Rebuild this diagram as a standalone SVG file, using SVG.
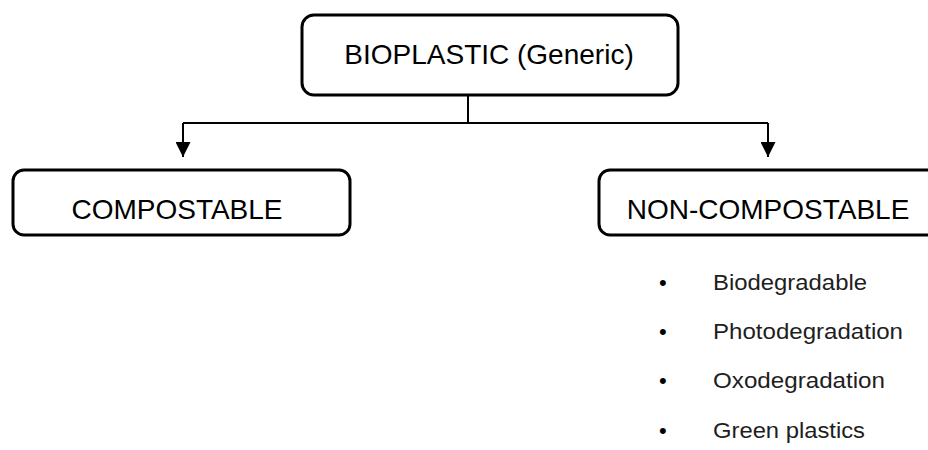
<svg xmlns="http://www.w3.org/2000/svg" width="928" height="450" viewBox="0 0 928 450">
  <defs>
    <marker id="arrow" viewBox="0 0 15 15" refX="15" refY="7.5" markerWidth="15" markerHeight="15" markerUnits="userSpaceOnUse" orient="auto">
      <path d="M0,0 L15,7.5 L0,15 z" fill="#000"/>
    </marker>
  </defs>
  <style>
    .box { fill: #fff; stroke: #000; stroke-width: 3; }
    .lbl { font-family: "Liberation Sans", Arial, sans-serif; font-size: 28px; fill: #000; text-anchor: middle; }
    .conn { fill: none; stroke: #000; stroke-width: 2; }
    .item { font-family: "Liberation Sans", Arial, sans-serif; font-size: 22px; fill: #1e1e1e; }
    .dot { font-family: "Liberation Sans", Arial, sans-serif; font-size: 22px; fill: #000; }
  </style>
  <rect width="928" height="450" fill="#fff"/>

  <g id="connectors">
    <path class="conn" d="M468,95 L468,123"/>
    <path class="conn" d="M183,123 L768,123"/>
    <path class="conn" d="M183,123 L183,157" marker-end="url(#arrow)"/>
    <path class="conn" d="M768,123 L768,157" marker-end="url(#arrow)"/>
  </g>

  <g id="bioplastic">
    <rect class="box" x="302" y="15" width="376" height="80" rx="12" ry="12"/>
    <text class="lbl" x="489" y="64">BIOPLASTIC (Generic)</text>
  </g>

  <g id="compostable">
    <rect class="box" x="13" y="170" width="337" height="65" rx="11" ry="11"/>
    <text class="lbl" x="177" y="219">COMPOSTABLE</text>
  </g>

  <g id="non-compostable">
    <rect class="box" x="599" y="170" width="345" height="65" rx="11" ry="11"/>
    <text class="lbl" x="768" y="219">NON-COMPOSTABLE</text>
  </g>

  <g id="list">
    <text class="dot" x="659" y="290">•</text>
    <text class="item" x="713" y="290" textLength="154" lengthAdjust="spacingAndGlyphs">Biodegradable</text>
    <text class="dot" x="659" y="339">•</text>
    <text class="item" x="713" y="339" textLength="190" lengthAdjust="spacingAndGlyphs">Photodegradation</text>
    <text class="dot" x="659" y="388">•</text>
    <text class="item" x="713" y="388" textLength="172" lengthAdjust="spacingAndGlyphs">Oxodegradation</text>
    <text class="dot" x="659" y="438">•</text>
    <text class="item" x="713" y="438" textLength="152" lengthAdjust="spacingAndGlyphs">Green plastics</text>
  </g>
</svg>
